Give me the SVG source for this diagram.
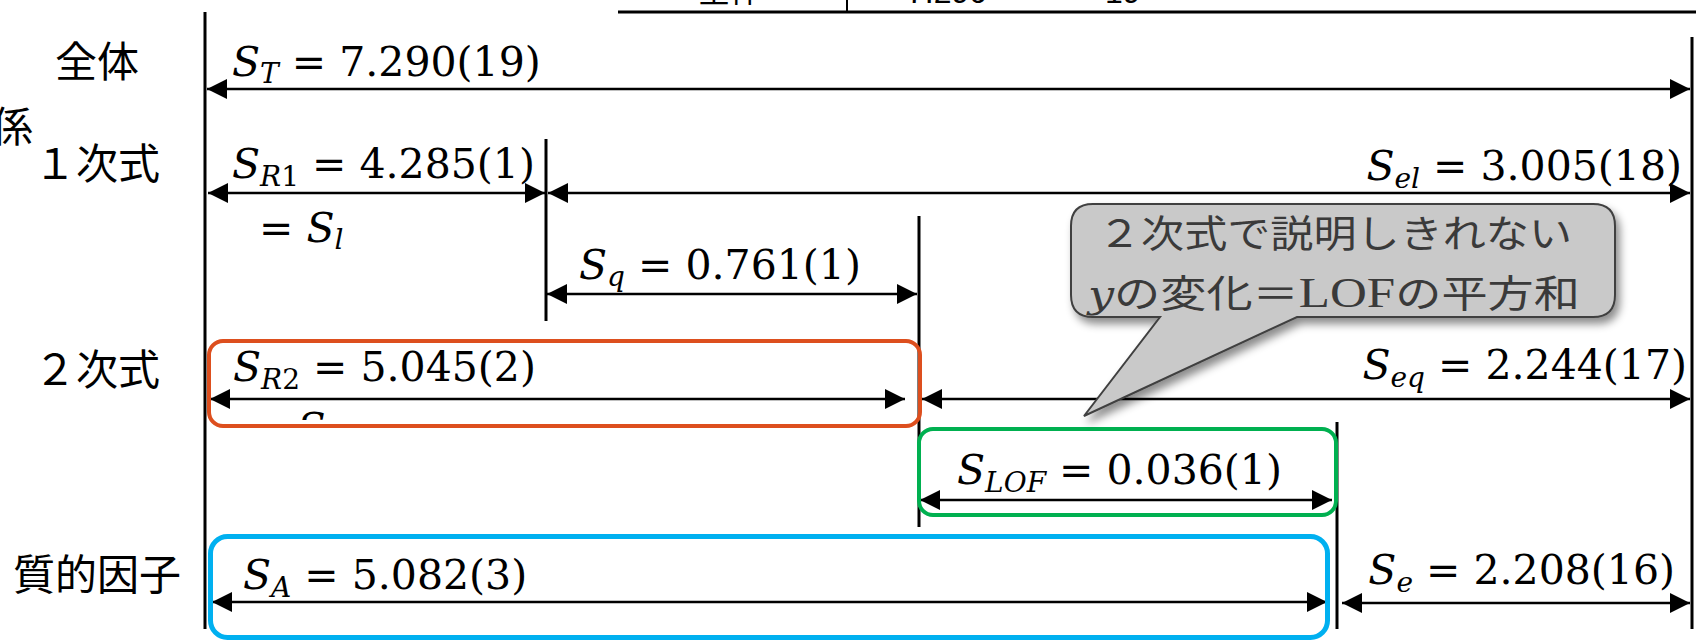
<svg xmlns="http://www.w3.org/2000/svg" width="1696" height="641" viewBox="0 0 1696 641">
<style>
.jp{font-family:'Noto Sans CJK JP',sans-serif;fill:#000}
.m{font-family:'DejaVu Serif','Liberation Serif',serif;font-size:41px;fill:#000}
.i{font-style:italic}
.sub{font-style:italic;font-size:28px}
.up{font-style:normal}
.guide{stroke:#000;stroke-width:3;fill:none}
.arr{stroke:#000;stroke-width:2.5;fill:none;marker-start:url(#ah);marker-end:url(#ah)}
.box{fill:none;stroke-width:4}
.co{font-family:'Noto Sans CJK JP',sans-serif;font-size:38px;fill:#3A3A3A}
</style>
<defs>
<marker id="ah" markerUnits="userSpaceOnUse" markerWidth="20" markerHeight="20" viewBox="0 0 20 20" refX="20" refY="10" orient="auto-start-reverse"><path d="M0,0 L20,10 L0,20 z" fill="#000"/></marker>
<filter id="sh" x="-10%" y="-10%" width="130%" height="140%"><feDropShadow dx="4" dy="6" stdDeviation="4" flood-color="#000" flood-opacity="0.45"/></filter>
<clipPath id="frag"><rect x="280" y="405" width="50" height="15"/></clipPath>
</defs>

<g id="table-top">
<line x1="618" y1="12" x2="1696" y2="12" stroke="#000" stroke-width="3"/>
<line x1="847" y1="0" x2="847" y2="12" stroke="#000" stroke-width="2"/>
<text class="jp" x="698" y="2" font-size="32">全体</text>
<text x="907" y="3" font-family="'Liberation Sans',sans-serif" font-size="32">7.290</text>
<text x="1105" y="3" font-family="'Liberation Sans',sans-serif" font-size="32">19</text>
</g>

<g id="row-labels">
<text class="jp" x="12" y="142" font-size="42" text-anchor="middle">係</text>
<text id="lbl-total" class="jp" x="97" y="77" font-size="42" text-anchor="middle">全体</text>
<text id="lbl-linear" class="jp" x="97" y="179" font-size="42" text-anchor="middle">１次式</text>
<text id="lbl-quad" class="jp" x="97" y="385" font-size="42" text-anchor="middle">２次式</text>
<text id="lbl-qual" class="jp" x="97" y="590" font-size="42" text-anchor="middle">質的因子</text>
</g>

<g id="guides">
<line class="guide" x1="205" y1="12" x2="205" y2="629"/>
<line class="guide" x1="546" y1="139" x2="546" y2="321"/>
<line class="guide" x1="919" y1="216" x2="919" y2="527"/>
<line class="guide" x1="1337" y1="422" x2="1337" y2="629"/>
<line class="guide" x1="1692" y1="37" x2="1692" y2="629"/>
</g>

<g id="connectors">
<path class="arr" d="M207,89 H1690"/>
<path class="arr" d="M208,193 H545"/>
<path class="arr" d="M548,193 H1690"/>
<path class="arr" d="M547,294 H917"/>
<path class="arr" d="M210,399 H905"/>
<path class="arr" d="M922,399 H1690"/>
<path class="arr" d="M920,500 H1332"/>
<path class="arr" d="M212,602 H1327"/>
<path class="arr" d="M1342,603 H1690"/>
</g>

<g id="n-ST"><text class="m" x="232" y="76"><tspan class="i">S</tspan><tspan class="sub" dy="7">T</tspan><tspan dy="-7"> = 7.290(19)</tspan></text></g>
<g id="n-SR1">
<text class="m" x="232" y="178"><tspan class="i">S</tspan><tspan class="sub" dy="8">R<tspan class="up">1</tspan></tspan><tspan dy="-8"> = 4.285(1)</tspan></text>
<text class="m" x="259" y="242">= <tspan class="i">S</tspan><tspan class="sub" dy="7">l</tspan></text>
</g>
<g id="n-Sel"><text class="m" x="1682" y="180" text-anchor="end"><tspan class="i">S</tspan><tspan class="sub" dy="8">el</tspan><tspan dy="-8"> = 3.005(18)</tspan></text></g>
<g id="n-Sq"><text class="m" x="579" y="279"><tspan class="i">S</tspan><tspan class="sub" dy="7">q</tspan><tspan dy="-7"> = 0.761(1)</tspan></text></g>
<g id="n-SR2">
<text class="m" x="233" y="381"><tspan class="i">S</tspan><tspan class="sub" dy="8">R<tspan class="up">2</tspan></tspan><tspan dy="-8"> = 5.045(2)</tspan></text>
<text class="m" x="250" y="442" clip-path="url(#frag)">= <tspan class="i">S</tspan></text>
<rect class="box" x="209" y="341" width="711" height="85" rx="14" stroke="#DD4F1E"/>
</g>
<g id="n-Seq"><text class="m" x="1687" y="379" text-anchor="end"><tspan class="i">S</tspan><tspan class="sub" dy="8">eq</tspan><tspan dy="-8"> = 2.244(17)</tspan></text></g>
<g id="n-SLOF">
<text class="m" x="957" y="484"><tspan class="i">S</tspan><tspan class="sub" dy="8">LOF</tspan><tspan dy="-8"> = 0.036(1)</tspan></text>
<rect class="box" x="919" y="429" width="417" height="86" rx="14" stroke="#00B050"/>
</g>
<g id="n-SA">
<text class="m" x="243" y="589"><tspan class="i">S</tspan><tspan class="sub" dy="8">A</tspan><tspan dy="-8"> = 5.082(3)</tspan></text>
<rect x="210.5" y="536.5" width="1117" height="101" rx="17" fill="none" stroke="#00B0F0" stroke-width="5"/>
</g>
<g id="n-Se"><text class="m" x="1675" y="584" text-anchor="end"><tspan class="i">S</tspan><tspan class="sub" dy="8">e</tspan><tspan dy="-8"> = 2.208(16)</tspan></text></g>

<g id="callout">
<path d="M1093,204 H1593 Q1615,204 1615,226 V295 Q1615,317 1593,317 H1297 L1084,416 L1160,317 H1093 Q1071,317 1071,295 V226 Q1071,204 1093,204 Z" fill="#C9C9C9" stroke="#404040" stroke-width="2" filter="url(#sh)"/>
<text class="co" x="1098" y="247" textLength="474" lengthAdjust="spacingAndGlyphs">２次式で説明しきれない</text>
<text class="co" x="1088" y="307" textLength="492" lengthAdjust="spacingAndGlyphs"><tspan font-family="'DejaVu Serif',serif" font-style="italic">y</tspan>の変化＝<tspan font-family="'Liberation Serif',serif" font-size="42">LOF</tspan>の平方和</text>
</g>
</svg>
